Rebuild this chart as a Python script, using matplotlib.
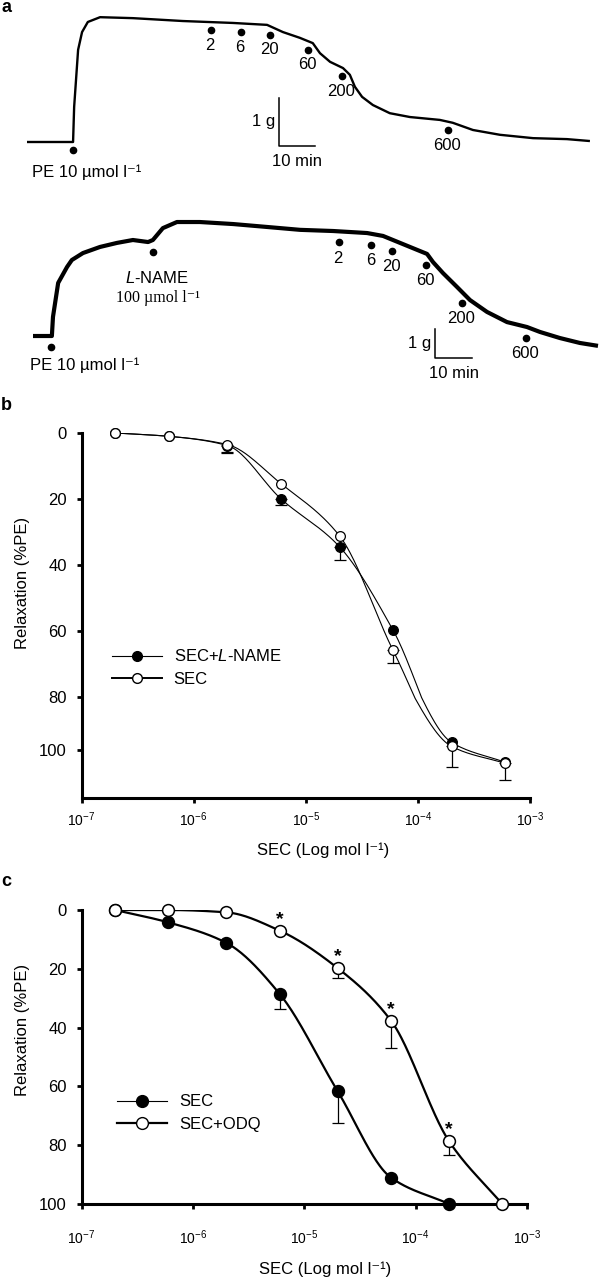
import numpy as np
import matplotlib
matplotlib.use('Agg')
import matplotlib.pyplot as plt
from matplotlib.lines import Line2D
from matplotlib.transforms import offset_copy

plt.rcParams['font.family'] = ['Liberation Sans', 'DejaVu Sans']
plt.rcParams['mathtext.fontset'] = 'custom'
plt.rcParams['mathtext.rm'] = 'Liberation Sans'
plt.rcParams['mathtext.it'] = 'Liberation Sans:italic'

# ---- panel a: isometric tension traces (time in min, tension in g) ----
trace1_t = [0, 12.8, 13.1, 14.2, 15.3, 16.9, 20.3, 29.4, 43.3, 57.2, 66.7, 71.1,
            75.8, 79.4, 81.4, 84.2, 87.8, 89.7, 91.1, 93.1, 96.1, 100.8, 106.4,
            114.7, 118.3, 123.9, 131.4, 140.6, 150.0, 156.4]
trace1_g = [0, 0, 0.73, 1.92, 2.29, 2.50, 2.60, 2.58, 2.52, 2.48, 2.44, 2.29,
            2.17, 2.06, 1.85, 1.67, 1.54, 1.40, 1.15, 0.94, 0.77, 0.60, 0.52,
            0.46, 0.40, 0.25, 0.15, 0.08, 0.06, 0.02]
trace1_pe = 12.8
trace1_doses = [51.1, 59.4, 67.5, 78.1, 87.5, 116.9]

trace2_t = [0, 5.1, 5.4, 6.8, 9.2, 10.5, 13.5, 18.1, 22.7, 27.0, 31.1, 32.4, 35.1,
            38.9, 45.1, 54.1, 63.2, 72.2, 81.1, 90.3, 94.6, 99.2, 103.8, 106.5,
            108.1, 110.8, 114.6, 118.1, 122.7, 128.1, 133.5, 137.0, 142.4, 147.8, 152.7]
trace2_g = [0, 0, 0.66, 1.83, 2.38, 2.62, 2.86, 3.07, 3.21, 3.31, 3.24, 3.31, 3.72,
            3.93, 3.93, 3.86, 3.76, 3.66, 3.62, 3.55, 3.45, 3.21, 2.97, 2.83,
            2.55, 2.17, 1.69, 1.24, 0.83, 0.48, 0.31, 0.14, -0.07, -0.24, -0.34]
trace2_pe = 4.9
trace2_lname = 32.4
trace2_doses = [82.7, 91.4, 97.0, 106.2, 115.9, 133.2]

dose_labels = ['2', '6', '20', '60', '200', '600']

# ---- panels b and c: concentration-response (mol/l, % relaxation) ----
conc = [2e-7, 6e-7, 2e-6, 6e-6, 2e-5, 6e-5, 2e-4, 6e-4]

b_sec = [0, 1, 3.5, 15.3, 31.1, 65.7, 98.5, 104.9]
b_sec_err = [0, 0, 2.7, 0, 0, 3.9, 7.9, 6.4]
b_lname = [0, 1, 3.8, 19.9, 34.4, 59.6, 97.0, 104.5]
b_lname_err = [0, 0, 1.8, 1.8, 4.0, 0, 0, 0]

c_sec = [0, 4.2, 11.2, 28.5, 61.7, 91.0, 100]
c_sec_err = [0, 0, 0, 5.2, 10.8, 0, 0]
c_odq = [0, 0, 0.8, 7.0, 19.8, 37.6, 78.7, 100]
c_odq_err = [0, 0, 0, 0, 3.2, 9.2, 4.8, 0]
c_signif = [6e-6, 2e-5, 6e-5, 2e-4]

xtick_vals = [1e-7, 1e-6, 1e-5, 1e-4, 1e-3]
xtick_labels = ['10$^{\\mathregular{-7}}$', '10$^{\\mathregular{-6}}$',
                '10$^{\\mathregular{-5}}$', '10$^{\\mathregular{-4}}$',
                '10$^{\\mathregular{-3}}$']

fig = plt.figure(figsize=(6, 12.8), dpi=100)


def px_axes(left, top, right, bottom):
    return fig.add_axes([left / 600, 1 - bottom / 1280,
                         (right - left) / 600, (bottom - top) / 1280])


def pchip(x, y, xn):
    # monotone cubic through the measured points, for the smooth curves
    x = np.asarray(x, float)
    y = np.asarray(y, float)
    h = np.diff(x)
    d = np.diff(y) / h
    m = np.zeros_like(y)
    m[0], m[-1] = d[0], d[-1]
    for k in range(1, len(x) - 1):
        if d[k - 1] * d[k] > 0:
            w1 = 2 * h[k] + h[k - 1]
            w2 = h[k] + 2 * h[k - 1]
            m[k] = (w1 + w2) / (w1 / d[k - 1] + w2 / d[k])
    i = np.clip(np.searchsorted(x, xn) - 1, 0, len(x) - 2)
    s = (xn - x[i]) / h[i]
    h00 = 2 * s**3 - 3 * s**2 + 1
    h10 = s**3 - 2 * s**2 + s
    h01 = -2 * s**3 + 3 * s**2
    h11 = s**3 - s**2
    return h00 * y[i] + h10 * h[i] * m[i] + h01 * y[i + 1] + h11 * h[i] * m[i + 1]


def draw_trace(ax, t, g, lw, pe_t, doses, drop, lab_drop, pe_off, bar):
    ax.plot(t, g, color='k', lw=lw, solid_joinstyle='round', solid_capstyle='butt')
    below = offset_copy(ax.transData, fig=fig, y=-drop, units='points')
    marks = [pe_t] + list(doses)
    ax.plot(marks, np.interp(marks, t, g), 'o', color='k', ms=4.5, transform=below)
    for tt, lab in zip(doses, dose_labels):
        ax.annotate(lab, (tt, np.interp(tt, t, g)), xytext=(-0.5, -drop - lab_drop),
                    textcoords='offset points', ha='center', va='center', fontsize=12)
    ax.annotate('PE 10 µmol l⁻¹', (pe_t, np.interp(pe_t, t, g)), xytext=pe_off,
                textcoords='offset points', ha='left', va='center', fontsize=12)
    # scale bar: 10 min x 1 g
    bx, by = bar
    ax.plot([bx, bx, bx + 10], [by + 1, by, by], color='k', lw=1.1)
    ax.annotate('1 g', (bx, by + 0.5), xytext=(-3, 0), textcoords='offset points',
                ha='right', va='center', fontsize=12)
    ax.annotate('10 min', (bx + 5, by), xytext=(0, -11), textcoords='offset points',
                ha='center', va='center', fontsize=12)
    ax.axis('off')


ax1 = px_axes(0, 0, 600, 190)
ax1.set_xlim(-7.5, 159.2)
ax1.set_ylim(-1.0, 2.958)
draw_trace(ax1, trace1_t, trace1_g, 1.7, trace1_pe, trace1_doses, 6, 11,
           (-29.5, -21.8), (70.0, -0.083))

ax2 = px_axes(0, 190, 600, 380)
ax2.set_xlim(-8.92, 153.24)
ax2.set_ylim(-1.517, 5.034)
draw_trace(ax2, trace2_t, trace2_g, 3.0, trace2_pe, trace2_doses, 8, 11.3,
           (-15, -21), (108.65, -0.759))
lname_y = np.interp(trace2_lname, trace2_t, trace2_g)
ax2.plot([trace2_lname], [lname_y], 'o', color='k', ms=4.5,
         transform=offset_copy(ax2.transData, fig=fig, y=-8.5, units='points'))
ax2.annotate('$\\mathit{L}$-NAME', (trace2_lname, lname_y), xytext=(3, -27),
             textcoords='offset points', ha='center', va='center', fontsize=12)
ax2.annotate('100 µmol l⁻¹', (trace2_lname, lname_y), xytext=(4, -42),
             textcoords='offset points', ha='center', va='center', fontsize=11.5,
             family=['Liberation Serif', 'DejaVu Serif'])


def style_dr(ax, ymax, xpad, ylab_xy, xlab_xy):
    ax.set_xscale('log')
    ax.set_xlim(1e-7, 1e-3)
    ax.set_ylim(ymax, 0)
    ax.set_yticks([0, 20, 40, 60, 80, 100])
    ax.set_xticks(xtick_vals, xtick_labels)
    ax.xaxis.set_minor_locator(matplotlib.ticker.NullLocator())
    for s in ['top', 'right']:
        ax.spines[s].set_visible(False)
    for s in ['left', 'bottom']:
        ax.spines[s].set_linewidth(2.2)
    ax.tick_params(direction='out', length=3.6, width=2.0)
    ax.tick_params(axis='y', labelsize=12, pad=7)
    ax.tick_params(axis='x', labelsize=10, pad=xpad)
    ax.set_ylabel('Relaxation (%PE)', fontsize=12)
    ax.set_xlabel('SEC (Log mol l⁻¹)', fontsize=12)
    ax.yaxis.set_label_coords(*ylab_xy)
    ax.xaxis.set_label_coords(*xlab_xy)


def curve(ax, x, y, err, filled, ms, lw, mew):
    x = np.asarray(x)
    y = np.asarray(y, float)
    err = np.asarray(err, float)
    u = np.linspace(np.log10(x[0]), np.log10(x[-1]), 300)
    ax.plot(10**u, pchip(np.log10(x), y, u), color='k', lw=lw, zorder=2)
    k = err > 0
    ax.errorbar(x[k], y[k], yerr=[np.zeros(k.sum()), err[k]], fmt='none', ecolor='k',
                elinewidth=0.9, capsize=4.3, capthick=0.9, zorder=1, clip_on=False)
    ax.plot(x, y, 'o', ms=ms, mfc='k' if filled else 'white', mec='k', mew=mew,
            ls='none', zorder=4 if not filled else 3, clip_on=False)


# ---- panel b ----
axb = px_axes(81.5, 433, 530, 798)
axb.set_yscale('function', functions=(
    lambda v: np.where(v <= 80, v, 80 + 0.8 * (v - 80)),
    lambda f: np.where(f <= 80, f, 80 + (f - 80) / 0.8)))
curve(axb, conc, b_lname, b_lname_err, True, 7, 0.8, 0.9)
curve(axb, conc, b_sec, b_sec_err, False, 7, 0.8, 0.9)
style_dr(axb, 118, 5, (-0.115, 0.589), (0.538, -0.123))
hb = [Line2D([], [], color='k', lw=0.8, marker='o', ms=7, mfc='k', mec='k'),
      Line2D([], [], color='k', lw=1.4, marker='o', ms=7, mfc='white', mec='k')]
axb.legend(hb, ['SEC+$\\mathit{L}$-NAME', 'SEC'], loc='upper left',
           bbox_to_anchor=(0.068, 0.41), frameon=False, fontsize=12, handlelength=3.0,
           handletextpad=0.7, labelspacing=0.45, borderpad=0, borderaxespad=0)

# ---- panel c ----
axc = px_axes(81.5, 910, 527, 1204)
curve(axc, conc[:len(c_sec)], c_sec, c_sec_err, True, 8.5, 1.6, 1.1)
curve(axc, conc, c_odq, c_odq_err, False, 8.5, 1.6, 1.1)
for x in c_signif:
    axc.annotate('*', (x, c_odq[conc.index(x)]), xytext=(0, 5), textcoords='offset points',
                 ha='center', va='baseline', fontsize=14, fontweight='bold')
style_dr(axc, 100, 14, (-0.1156, 0.592), (0.547, -0.194))
hc = [Line2D([], [], color='k', lw=0.8, marker='o', ms=8.5, mfc='k', mec='k'),
      Line2D([], [], color='k', lw=1.6, marker='o', ms=8.5, mfc='white', mec='k')]
axc.legend(hc, ['SEC', 'SEC+ODQ'], loc='upper left', bbox_to_anchor=(0.08, 0.373),
           frameon=False, fontsize=12, handlelength=3.0, handletextpad=0.7,
           labelspacing=0.45, borderpad=0, borderaxespad=0)

# panel letters
for lab, y in [('a', 8), ('b', 406), ('c', 882)]:
    fig.text(1 / 600, 1 - y / 1280, lab, fontsize=13, fontweight='bold',
             ha='left', va='center')

fig.savefig('out.png', dpi=100)
